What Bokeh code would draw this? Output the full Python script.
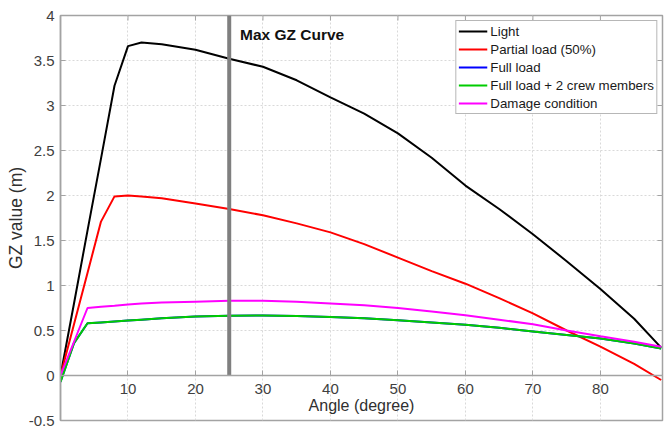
from bokeh.plotting import figure
from bokeh.models import (FixedTicker, Legend, LegendItem, Label,
                          ColumnDataSource, Range1d)
from bokeh.embed import file_html
from bokeh.resources import INLINE

# Heel angle (degree) at which GZ was evaluated
angles = [0, 2, 4, 6, 8, 10, 12, 15, 20, 25, 30, 35, 40, 45, 50, 55, 60, 65,
          70, 75, 80, 85, 89]

# GZ righting arm (m) per loading condition
light = [0.00, 0.80, 1.61, 2.41, 3.22, 3.66, 3.70, 3.68, 3.62, 3.52, 3.43,
         3.28, 3.09, 2.91, 2.69, 2.42, 2.11, 1.85, 1.57, 1.27, 0.96, 0.63, 0.31]
partial_load = [0.00, 0.57, 1.14, 1.71, 1.99, 2.00, 1.99, 1.97, 1.91, 1.85,
                1.78, 1.69, 1.59, 1.46, 1.31, 1.16, 1.02, 0.86, 0.69, 0.50,
                0.32, 0.13, -0.05]
full_load = [-0.07, 0.36, 0.58, 0.59, 0.60, 0.61, 0.62, 0.635, 0.655, 0.665,
             0.667, 0.66, 0.65, 0.635, 0.615, 0.59, 0.565, 0.53, 0.49, 0.45,
             0.41, 0.355, 0.30]
full_load_crew = [-0.07, 0.36, 0.58, 0.59, 0.60, 0.61, 0.62, 0.635, 0.655,
                  0.665, 0.667, 0.66, 0.65, 0.635, 0.615, 0.59, 0.565, 0.53,
                  0.49, 0.45, 0.41, 0.355, 0.30]
damage = [0.00, 0.375, 0.75, 0.765, 0.775, 0.79, 0.80, 0.81, 0.82, 0.83, 0.83,
          0.82, 0.80, 0.78, 0.75, 0.71, 0.67, 0.62, 0.57, 0.50, 0.435, 0.375,
          0.32]

series_names = ["Light", "Partial load (50%)", "Full load",
                "Full load + 2 crew members", "Damage condition"]
series_values = [light, partial_load, full_load, full_load_crew, damage]
series_colors = ["#000000", "#ff0000", "#0000ff", "#00cc00", "#ff00ff"]

x_ticks = [10, 20, 30, 40, 50, 60, 70, 80]
y_ticks = [-0.5, 0, 0.5, 1, 1.5, 2, 2.5, 3, 3.5, 4]
y_tick_labels = ["-0.5", "0", "0.5", "1", "1.5", "2", "2.5", "3", "3.5", "4"]

max_gz_angle = 25
max_gz_label = "Max GZ Curve"

x_start, x_end = 0, 89.2
y_start, y_end = -0.5, 4

FONT = "Liberation Sans"
FRAME = "#a3a3a3"

p = figure(width=664, height=429, output_backend="svg", toolbar_location=None,
           x_range=Range1d(x_start, x_end), y_range=Range1d(y_start, y_end),
           min_border_left=60, min_border_right=2, min_border_top=15,
           min_border_bottom=9)
p.background_fill_color = "white"
p.border_fill_color = "white"
p.outline_line_color = FRAME
p.outline_line_width = 1.5

# x axis runs along GZ = 0, y axis on the left edge
xa = p.xaxis[0]
ya = p.yaxis[0]
xa.fixed_location = 0
xa.ticker = FixedTicker(ticks=x_ticks)
ya.ticker = FixedTicker(ticks=y_ticks)
ya.major_label_overrides = {t: s for t, s in zip(y_ticks, y_tick_labels)}
xa.axis_label = "Angle (degree)"
ya.axis_label = "GZ value (m)"
for ax in (xa, ya):
    ax.axis_line_color = FRAME
    ax.axis_line_width = 1.5
    ax.major_tick_line_color = FRAME
    ax.major_tick_in = 5
    ax.major_tick_out = 0
    ax.minor_tick_line_color = None
    ax.major_label_text_font = FONT
    ax.major_label_text_font_size = "15px"
    ax.major_label_text_color = "#404040"
    ax.axis_label_text_font = FONT
    ax.axis_label_text_font_style = "normal"
    ax.axis_label_text_color = "#303030"
xa.major_label_standoff = 8
ya.major_label_standoff = 6
xa.axis_label_text_font_size = "16px"
ya.axis_label_text_font_size = "17.5px"
xa.axis_label_standoff = 0
ya.axis_label_standoff = 0

p.xgrid.grid_line_color = "#d9d9d9"
p.ygrid.grid_line_color = "#d9d9d9"
p.xgrid.grid_line_dash = "2 2"
p.ygrid.grid_line_dash = "2 2"

# inward tick marks on the top and right edges of the box
p.scatter(x=x_ticks, y=[y_end] * len(x_ticks), marker="dash", angle=1.5708,
          size=10, line_color=FRAME, line_width=1)
p.scatter(x=[x_end] * len(y_ticks), y=y_ticks, marker="dash",
          size=10, line_color=FRAME, line_width=1)

# curves
renderers = []
for name, vals, color in zip(series_names, series_values, series_colors):
    src = ColumnDataSource(dict(angle=angles, gz=vals))
    r = p.line("angle", "gz", source=src, line_color=color, line_width=2)
    renderers.append(r)

# marker of the maximum-GZ angle
p.segment(x0=[max_gz_angle], y0=[0], x1=[max_gz_angle], y1=[y_end],
          line_color="#7f7f7f", line_width=4)
p.add_layout(Label(x=max_gz_angle + 1.6, y=3.79, text=max_gz_label,
                   text_font=FONT, text_font_style="bold",
                   text_font_size="15.5px", text_color="#111111",
                   text_baseline="middle"))

legend = Legend(items=[LegendItem(label=n, renderers=[r])
                       for n, r in zip(series_names, renderers)],
                location="top_right", margin=5, padding=2, spacing=2,
                label_height=16, glyph_height=16, glyph_width=29,
                label_standoff=3, label_text_font=FONT,
                label_text_font_size="13.3px", label_text_color="#1a1a1a",
                border_line_color="#707070", border_line_width=1,
                background_fill_color="white", background_fill_alpha=1)
p.add_layout(legend, "center")

open("out.html", "w").write(file_html(p, INLINE))
